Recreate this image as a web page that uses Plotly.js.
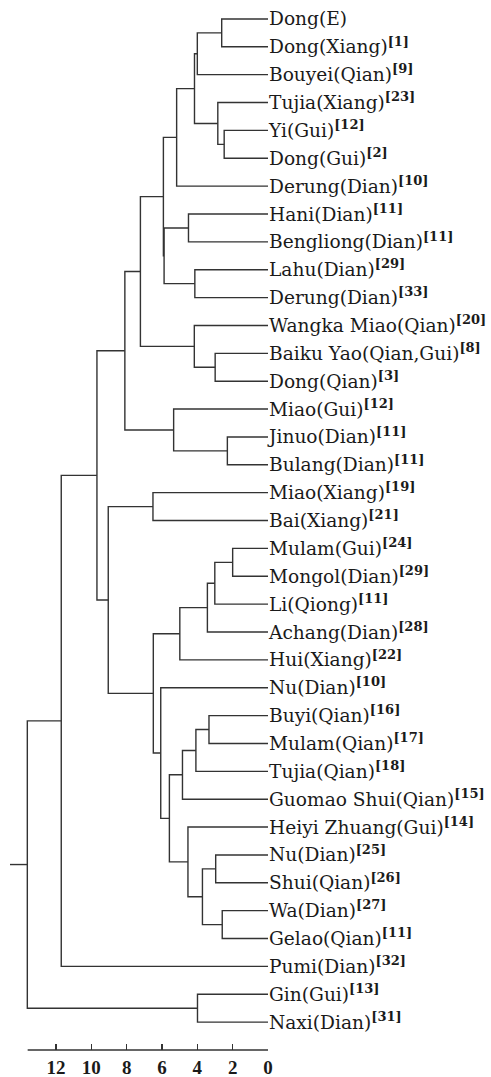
<!DOCTYPE html>
<html>
<head>
<meta charset="utf-8">
<script src="https://cdn.plot.ly/plotly-3.0.1.min.js"></script>
<style>html,body{margin:0;padding:0;background:#fff;}</style>
</head>
<body>
<div id="chart" style="width:491px;height:1077px;"></div>
<script>
// Leaf labels (top to bottom)
const leafNames = [
  "Dong(E)", "Dong(Xiang)", "Bouyei(Qian)", "Tujia(Xiang)", "Yi(Gui)", "Dong(Gui)",
  "Derung(Dian)", "Hani(Dian)", "Bengliong(Dian)", "Lahu(Dian)", "Derung(Dian)",
  "Wangka Miao(Qian)", "Baiku Yao(Qian,Gui)", "Dong(Qian)", "Miao(Gui)", "Jinuo(Dian)",
  "Bulang(Dian)", "Miao(Xiang)", "Bai(Xiang)", "Mulam(Gui)", "Mongol(Dian)", "Li(Qiong)",
  "Achang(Dian)", "Hui(Xiang)", "Nu(Dian)", "Buyi(Qian)", "Mulam(Qian)", "Tujia(Qian)",
  "Guomao Shui(Qian)", "Heiyi Zhuang(Gui)", "Nu(Dian)", "Shui(Qian)", "Wa(Dian)",
  "Gelao(Qian)", "Pumi(Dian)", "Gin(Gui)", "Naxi(Dian)"
];
const leafRefs = [
  "", "1", "9", "23", "12", "2", "10", "11", "11", "29", "33", "20", "8", "3", "12", "11",
  "11", "19", "21", "24", "29", "11", "28", "22", "10", "16", "17", "18", "15", "14", "25",
  "26", "27", "11", "32", "13", "31"
];
// Linkage: child A, child B (index >= 37 refers to merge node index-37), merge distance
const mergeA = [0, 4, 3, 37, 40, 41, 7, 9, 43, 42, 12, 11, 46, 15, 14, 49, 17, 19, 54, 55, 56, 25, 58, 59, 30, 32, 61, 29, 60, 24, 57, 53, 52, 69, 35, 70];
const mergeB = [1, 5, 38, 2, 39, 6, 8, 10, 44, 45, 13, 47, 48, 16, 50, 51, 18, 20, 21, 22, 23, 26, 27, 28, 31, 33, 62, 63, 64, 65, 66, 67, 68, 34, 36, 71];
const mergeH = [2.62, 2.48, 2.84, 4.00, 4.16, 5.17, 4.50, 4.14, 5.88, 5.92, 2.99, 4.17, 7.22, 2.30, 5.34, 8.10, 6.51, 2.00, 3.01, 3.43, 4.99, 3.34, 4.08, 4.84, 2.96, 2.59, 3.71, 4.53, 5.58, 6.07, 6.49, 9.04, 9.68, 11.70, 3.99, 13.62];
const rootStubEnd = 14.6;
const xTicks = [12, 10, 8, 6, 4, 2, 0];
const axisStart = 13.6;

const nLeaf = leafNames.length;
const nodeX = [], nodeY = [];
for (let i = 0; i < nLeaf; i++) { nodeX.push(0); nodeY.push(i); }
const lx = [], ly = [];
for (let k = 0; k < mergeA.length; k++) {
  const a = mergeA[k], b = mergeB[k], h = mergeH[k];
  lx.push(nodeX[a], h, h, nodeX[b], null);
  ly.push(nodeY[a], nodeY[a], nodeY[b], nodeY[b], null);
  nodeX.push(h); nodeY.push((nodeY[a] + nodeY[b]) / 2);
}
const root = nodeX.length - 1;
lx.push(nodeX[root], rootStubEnd, null);
ly.push(nodeY[root], nodeY[root], null);

const tickText = leafNames.map((n, i) => leafRefs[i] ? n + "<sup><b>[" + leafRefs[i] + "]</b></sup>" : n);
const tickVals = leafNames.map((n, i) => i);

const trace = {
  x: lx, y: ly, mode: "lines", type: "scatter",
  line: {color: "#333333", width: 1.4}, hoverinfo: "skip", showlegend: false
};

const layout = {
  width: 491, height: 1077,
  margin: {l: 10, r: 223, t: 5, b: 27},
  paper_bgcolor: "#ffffff", plot_bgcolor: "#ffffff",
  showlegend: false,
  xaxis: {
    range: [rootStubEnd, 0], tickvals: xTicks, ticktext: xTicks.map(String),
    ticks: "inside", ticklen: 6, tickwidth: 1.5, tickcolor: "#333333",
    showline: false, showgrid: false, zeroline: false, ticklabelstandoff: 4,
    tickfont: {family: "Liberation Serif", size: 19, color: "#1a1a1a", weight: "bold"}
  },
  yaxis: {
    range: [37.0, -0.5], side: "right", tickvals: tickVals, ticktext: tickText,
    ticks: "", showline: false, showgrid: false, zeroline: false,
    tickfont: {family: "DejaVu Serif", size: 18.6, color: "#1a1a1a"}
  },
  shapes: [{
    type: "line", xref: "x", yref: "paper", x0: axisStart, x1: 0, y0: 0, y1: 0,
    line: {color: "#333333", width: 1.5}
  }]
};

Plotly.newPlot("chart", [trace], layout, {displayModeBar: false, staticPlot: true});
</script>
</body>
</html>
